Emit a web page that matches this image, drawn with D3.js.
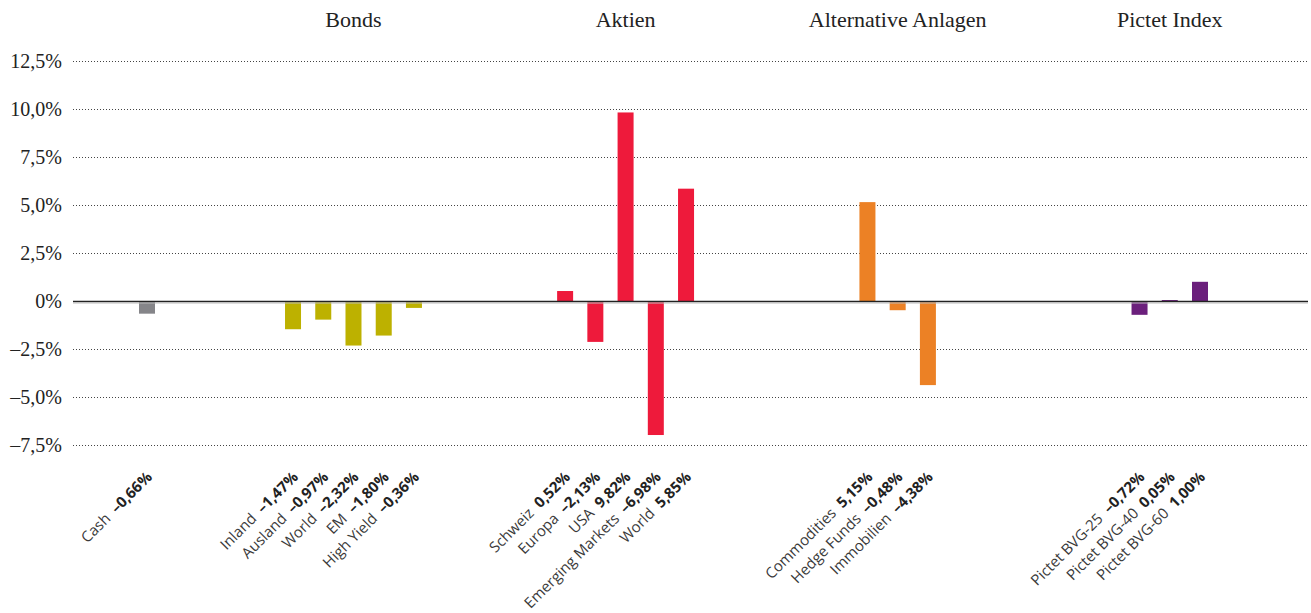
<!DOCTYPE html>
<html>
<head>
<meta charset="utf-8">
<script src="https://cdn.jsdelivr.net/npm/d3@7"></script>
<style>
  html, body { margin: 0; padding: 0; background: #fff; }
  svg { display: block; }
</style>
</head>
<body>
<svg id="chart" width="1311" height="613"></svg>
<script>
// Performance by asset class, grouped
const groupTitles = ["", "Bonds", "Aktien", "Alternative Anlagen", "Pictet Index"];
const cashCategories = ["Cash"];
const cashValues = [-0.66];
const bondCategories = ["Inland", "Ausland", "World", "EM", "High Yield"];
const bondValues = [-1.47, -0.97, -2.32, -1.80, -0.36];
const equityCategories = ["Schweiz", "Europa", "USA", "Emerging Markets", "World"];
const equityValues = [0.52, -2.13, 9.82, -6.98, 5.85];
const altCategories = ["Commodities", "Hedge Funds", "Immobilien"];
const altValues = [5.15, -0.48, -4.38];
const pictetCategories = ["Pictet BVG-25", "Pictet BVG-40", "Pictet BVG-60"];
const pictetValues = [-0.72, 0.05, 1.00];
const yTicks = [-7.5, -5, -2.5, 0, 2.5, 5, 7.5, 10, 12.5];

const groupColors = ["#858589", "#bdb100", "#ee1a3b", "#ec8125", "#6b1f7c"];
// slot distance from the last bar of one group to the first bar of the next
const groupGaps = [0, 4.83, 5, 6, 7];

const groups = [
  [cashCategories, cashValues],
  [bondCategories, bondValues],
  [equityCategories, equityValues],
  [altCategories, altValues],
  [pictetCategories, pictetValues]
];

// flatten into bar records with a slot index
const bars = [];
const groupCenters = [];
let slot = 0;
groups.forEach(([cats, vals], gi) => {
  if (gi > 0) slot += groupGaps[gi];
  const first = slot;
  cats.forEach((c, i) => {
    if (i > 0) slot += 1;
    bars.push({ name: c, value: vals[i], group: gi, slot: slot });
  });
  groupCenters.push((first + slot) / 2);
});
const lastSlot = bars[bars.length - 1].slot;

const svg = d3.select("#chart");
const plotLeft = 73, plotRight = 1308;

const x = d3.scaleLinear().domain([0, lastSlot]).range([147, 1200]);
const y = d3.scaleLinear().domain([-7.5, 12.5]).range([445, 61]);

const loc = d3.formatLocale({ decimal: ",", thousands: ".", grouping: [3], currency: ["", ""], minus: "\u2013" });
const fmtVal = loc.format(".2f");
const fmtTick = loc.format(".1f");

// dotted gridlines
svg.append("g")
  .selectAll("line")
  .data(yTicks.filter(t => t !== 0))
  .join("line")
  .attr("x1", plotLeft).attr("x2", plotRight)
  .attr("y1", d => Math.round(y(d)) + 0.5).attr("y2", d => Math.round(y(d)) + 0.5)
  .attr("stroke", "#444")
  .attr("stroke-width", 1)
  .attr("stroke-dasharray", "1,2");

// y axis labels
const yAxis = d3.axisLeft(y)
  .tickValues(yTicks)
  .tickSize(0)
  .tickPadding(0)
  .tickFormat(d => (d === 0 ? "0" : fmtTick(d)) + "%");
const yG = svg.append("g").attr("transform", "translate(62,0)").call(yAxis);
yG.select(".domain").remove();
yG.selectAll("text")
  .attr("font-family", "'Liberation Serif', serif")
  .attr("font-size", 20)
  .attr("fill", "#222")
  .attr("dy", "0.33em");

// bars
svg.append("g")
  .selectAll("rect")
  .data(bars)
  .join("rect")
  .attr("x", d => x(d.slot) - 8)
  .attr("width", 16)
  .attr("y", d => y(Math.max(0, d.value)))
  .attr("height", d => Math.abs(y(d.value) - y(0)))
  .attr("fill", d => groupColors[d.group]);

// zero line
svg.append("line")
  .attr("x1", plotLeft).attr("x2", plotRight)
  .attr("y1", y(0) + 0.5).attr("y2", y(0) + 0.5)
  .attr("stroke", "#222").attr("stroke-width", 1.5);
svg.append("line")
  .attr("x1", plotLeft).attr("x2", plotRight)
  .attr("y1", y(0) + 2).attr("y2", y(0) + 2)
  .attr("stroke", "#bbb").attr("stroke-width", 1);

// group titles
svg.append("g")
  .selectAll("text")
  .data(groupTitles.map((t, i) => ({ t, c: groupCenters[i] })).filter(d => d.t))
  .join("text")
  .attr("x", d => x(d.c))
  .attr("y", 27)
  .attr("text-anchor", "middle")
  .attr("font-family", "'Liberation Serif', serif")
  .attr("font-size", 22)
  .attr("fill", "#222")
  .text(d => d.t);

// rotated category labels with bold values
const lab = svg.append("g")
  .selectAll("text")
  .data(bars)
  .join("text")
  .attr("transform", d => `translate(${x(d.slot) + 6},478) rotate(-45)`)
  .attr("text-anchor", "end")
  .attr("font-family", "'Open Sans', sans-serif")
  .attr("font-size", 15)
  .attr("fill", "#3a3a3a");
lab.append("tspan").text(d => d.name + "\u00a0\u00a0");
lab.append("tspan").attr("font-weight", "bold").attr("fill", "#222").text(d => fmtVal(d.value) + "%");
</script>
</body>
</html>
